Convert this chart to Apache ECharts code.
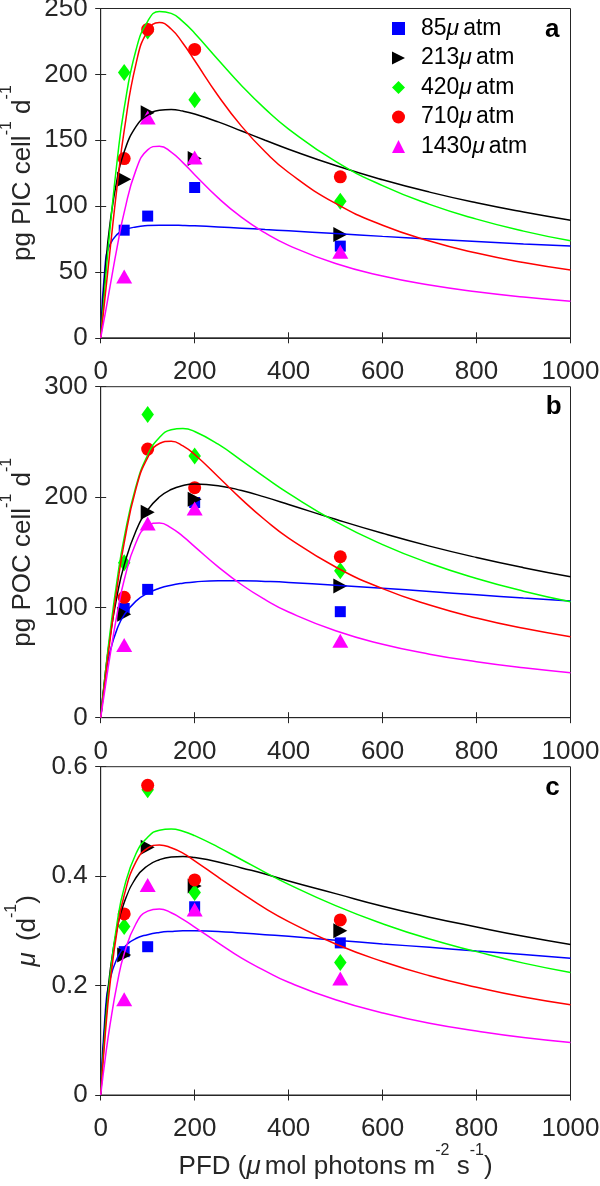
<!DOCTYPE html>
<html><head><meta charset="utf-8">
<script src="https://cdn.jsdelivr.net/npm/echarts@6/dist/echarts.min.js"></script>
<style>html,body{margin:0;padding:0;background:#fff}#c{width:600px;height:1186px}</style>
</head><body><div id="c"></div>
<script>
// ---------- data ----------
const pfd = [50, 100, 200, 510];
const fitPfd = [0, 10, 20, 35, 50, 75, 100, 125, 150, 175, 200, 250, 300, 350, 400, 500, 600, 700, 800, 900, 1000];
const co2Labels = ['85μatm', '213μatm', '420μatm', '710μatm', '1430μatm'];

// panel a: PIC production
const pic85 = [81.7, 92.4, 114.1, 69.6];
const pic213 = [120.4, 170.8, 136.1, 78.4];
const pic420 = [201.4, 233.0, 180.7, 103.7];
const pic710 = [136.1, 234.1, 218.9, 122.2];
const pic1430 = [46.5, 167.3, 136.9, 65.3];
const picFit85 = [0, 57.5, 70.9, 78.5, 81.8, 84.2, 85.2, 85.5, 85.5, 85.3, 85.0, 84.2, 83.2, 82.2, 81.2, 79.1, 77.0, 75.1, 73.2, 71.3, 69.6];
const picFit213 = [0, 52.4, 87.2, 120.7, 141.3, 160.3, 169.1, 172.7, 173.3, 172.1, 169.9, 163.9, 157.0, 150.0, 143.2, 130.8, 120.0, 110.6, 102.5, 95.5, 89.3];
const picFit420 = [0, 43.6, 83.4, 134.4, 174.3, 218.3, 240.3, 247.7, 246.3, 240.0, 231.2, 211.1, 191.4, 173.8, 158.5, 133.9, 115.5, 101.3, 90.1, 81.0, 73.6];
const picFit710 = [0, 33.3, 66.9, 115.2, 157.3, 207.8, 233.0, 239.4, 234.4, 223.6, 210.5, 183.8, 160.5, 141.2, 125.5, 102.0, 85.5, 73.5, 64.3, 57.1, 51.4];
const picFit1430 = [0, 19.2, 39.2, 68.8, 95.2, 127.3, 142.7, 145.5, 141.0, 133.0, 123.8, 106.2, 91.4, 79.6, 70.2, 56.4, 46.9, 40.1, 35.0, 31.0, 27.8];

// panel b: POC production
const poc85 = [99.0, 116.3, 195.0, 96.1];
const poc213 = [93.7, 186.1, 197.9, 119.3];
const poc420 = [140.5, 274.9, 237.2, 133.2];
const poc710 = [109.1, 243.5, 208.5, 145.9];
const poc1430 = [65.9, 176.1, 189.7, 69.8];
const pocFit85 = [0, 37.5, 60.0, 80.5, 93.2, 105.7, 112.9, 117.3, 120.1, 121.9, 123.1, 124.1, 124.1, 123.5, 122.6, 120.1, 117.3, 114.4, 111.4, 108.5, 105.7];
const pocFit213 = [0, 41.0, 73.6, 111.0, 138.3, 169.2, 188.3, 200.0, 206.8, 210.4, 211.7, 210.3, 205.9, 199.9, 193.3, 179.8, 167.1, 155.5, 145.2, 136.0, 127.8];
const pocFit420 = [0, 40.8, 77.6, 124.9, 163.3, 209.5, 238.1, 253.9, 260.9, 262.1, 259.4, 247.9, 233.1, 217.8, 203.3, 177.7, 156.9, 140.0, 126.2, 114.7, 105.1];
const pocFit710 = [0, 36.2, 70.9, 118.3, 158.5, 207.4, 235.8, 248.5, 250.6, 246.4, 238.5, 218.4, 197.9, 179.2, 162.8, 136.6, 117.0, 102.1, 90.4, 81.0, 73.4];
const pocFit1430 = [0, 28.7, 56.4, 94.0, 124.8, 158.6, 173.8, 176.5, 172.1, 164.3, 155.1, 136.7, 120.5, 107.0, 95.8, 78.8, 66.6, 57.6, 50.7, 45.2, 40.8];

// panel c: growth rate
const mu85 = [0.262, 0.271, 0.344, 0.278];
const mu213 = [0.256, 0.453, 0.382, 0.300];
const mu420 = [0.308, 0.558, 0.370, 0.242];
const mu710 = [0.331, 0.566, 0.393, 0.320];
const mu1430 = [0.175, 0.384, 0.339, 0.213];
const muFit85 = [0, 0.155, 0.212, 0.250, 0.270, 0.286, 0.293, 0.297, 0.299, 0.300, 0.300, 0.299, 0.296, 0.293, 0.290, 0.283, 0.276, 0.270, 0.263, 0.257, 0.250];
const muFit213 = [0, 0.140, 0.226, 0.305, 0.352, 0.397, 0.419, 0.430, 0.435, 0.436, 0.434, 0.426, 0.415, 0.404, 0.391, 0.368, 0.345, 0.325, 0.307, 0.290, 0.275];
const muFit420 = [0, 0.126, 0.218, 0.315, 0.379, 0.441, 0.471, 0.484, 0.486, 0.482, 0.474, 0.453, 0.430, 0.407, 0.385, 0.346, 0.313, 0.285, 0.262, 0.241, 0.224];
const muFit710 = [0, 0.114, 0.204, 0.301, 0.365, 0.426, 0.451, 0.457, 0.452, 0.442, 0.428, 0.398, 0.369, 0.341, 0.317, 0.276, 0.244, 0.218, 0.197, 0.179, 0.165];
const muFit1430 = [0, 0.069, 0.129, 0.203, 0.258, 0.313, 0.336, 0.340, 0.333, 0.321, 0.307, 0.278, 0.250, 0.227, 0.206, 0.174, 0.150, 0.131, 0.117, 0.105, 0.096];

// ---------- styling ----------
const FONT = '"Liberation Sans", Arial, Helvetica, sans-serif';
const AX = '#262626';
const colors = ['#0000ff', '#000000', '#00ff00', '#ff0000', '#ff00ff'];
const symbols = ['rect', 'path://M0,0L10,5L0,10Z', 'diamond', 'circle', 'triangle'];
const symSizes = [11, [14, 15], [12.5, 17], 13, [16, 14]];

const panels = [
  { pts: [pic85, pic213, pic420, pic710, pic1430], fits: [picFit85, picFit213, picFit420, picFit710, picFit1430],
    max: 250, interval: 50, name: '{n|pg PIC cell}{sup|-1}{n| d}{sup|-1}', nameGap: 65,
    grid: { top: 8.5, height: 329.3 } },
  { pts: [poc85, poc213, poc420, poc710, poc1430], fits: [pocFit85, pocFit213, pocFit420, pocFit710, pocFit1430],
    max: 300, interval: 100, name: '{n|pg POC cell}{sup|-1}{n| d}{sup|-1}', nameGap: 65,
    grid: { top: 386.7, height: 331 } },
  { pts: [mu85, mu213, mu420, mu710, mu1430], fits: [muFit85, muFit213, muFit420, muFit710, muFit1430],
    max: 0.6, interval: 0.2, name: '{mu|μ}{n| (d}{sup|-1}{n|)}', nameGap: 60,
    grid: { top: 766.7, height: 328.3 } }
];

const richName = {
  n: { fontFamily: FONT, fontSize: 26, color: AX, lineHeight: 37, verticalAlign: 'bottom' },
  mu: { fontFamily: FONT, fontSize: 26, fontStyle: 'italic', color: AX, lineHeight: 37, verticalAlign: 'bottom', padding: [0, 4, 0, 0] },
  sup: { fontFamily: FONT, fontSize: 16, color: AX, lineHeight: 16, verticalAlign: 'top' }
};

const grid = [], xAxis = [], yAxis = [], series = [];
panels.forEach((p, i) => {
  grid.push(Object.assign({ left: 100.7, right: 29.5, show: true, borderColor: AX, borderWidth: 1,
    backgroundColor: 'rgba(0,0,0,0)', containLabel: false, outerBoundsMode: 'none' }, p.grid));
  const tick = { show: true, inside: true, length: 5.5, lineStyle: { color: AX, width: 1 } };
  xAxis.push({
    type: 'value', gridIndex: i, min: 0, max: 1000, interval: 200, position: 'bottom',
    axisLine: { show: true, lineStyle: { color: AX, width: 1 } }, axisTick: tick,
    axisLabel: { show: true, margin: 21, fontFamily: FONT, fontSize: 26, color: AX, formatter: v => String(v) },
    splitLine: { show: false },
    name: i === 2 ? '{n|PFD (}{mu|μ}{n|mol photons m}{sup|-2}{n| s}{sup|-1}{n|)}' : '',
    nameLocation: 'middle', nameGap: 48, nameMoveOverlap: false,
    nameTextStyle: { fontFamily: FONT, fontSize: 26, color: AX, rich: richName }
  });
  xAxis.push({
    type: 'value', gridIndex: i, min: 0, max: 1000, interval: 200, position: 'top',
    axisLine: { show: false }, axisTick: tick, axisLabel: { show: false }, splitLine: { show: false }
  });
  yAxis.push({
    type: 'value', gridIndex: i, min: 0, max: p.max, interval: p.interval, position: 'left',
    axisLine: { show: true, lineStyle: { color: AX, width: 1 } }, axisTick: tick,
    axisLabel: { show: true, margin: 13, fontFamily: FONT, fontSize: 26, color: AX },
    splitLine: { show: false },
    name: p.name, nameLocation: 'middle', nameGap: p.nameGap, nameMoveOverlap: false,
    nameTextStyle: { fontFamily: FONT, fontSize: 26, color: AX, rich: richName }
  });
  yAxis.push({
    type: 'value', gridIndex: i, min: 0, max: p.max, interval: p.interval, position: 'right',
    axisLine: { show: false }, axisTick: tick, axisLabel: { show: false }, splitLine: { show: false }
  });
  for (let s = 0; s < 5; s++) {
    series.push({
      type: 'scatter', name: co2Labels[s], xAxisIndex: 2 * i, yAxisIndex: 2 * i,
      data: pfd.map((x, k) => [x, p.pts[s][k]]),
      symbol: symbols[s], symbolSize: symSizes[s],
      itemStyle: { color: colors[s], opacity: 1 }, z: 2, silent: true
    });
  }
  for (let s = 0; s < 5; s++) {
    series.push({
      type: 'line', name: 'fit ' + co2Labels[s], xAxisIndex: 2 * i, yAxisIndex: 2 * i,
      data: fitPfd.map((x, k) => [x, p.fits[s][k]]),
      showSymbol: false, symbol: 'none', smooth: 0.5,
      lineStyle: { color: colors[s], width: 1.5 }, itemStyle: { color: colors[s] }, z: 3, silent: true
    });
  }
});

const option = {
  animation: false,
  backgroundColor: '#ffffff',
  grid, xAxis, yAxis, series,
  legend: {
    data: co2Labels.map((n, i) => ({ name: n, icon: symbols[i] })),
    orient: 'vertical', left: 392, top: 16.5, padding: 0,
    itemWidth: 13, itemHeight: 13, itemGap: 5.5, selectedMode: false,
    formatter: n => n.replace('μ', '{mu|μ}'),
    textStyle: {
      fontFamily: FONT, fontSize: 23, color: '#000', lineHeight: 24, padding: [0, 0, 0, 11],
      rich: { mu: { fontFamily: FONT, fontSize: 23, fontStyle: 'italic', color: '#000', lineHeight: 24, padding: [0, 4, 0, 0] } }
    }
  },
  graphic: [
    { type: 'text', x: 552.3, y: 29.5, silent: true, style: { text: 'a', font: 'bold 26px ' + FONT, fill: '#000', align: 'center', verticalAlign: 'middle' } },
    { type: 'text', x: 553.6, y: 406.5, silent: true, style: { text: 'b', font: 'bold 26px ' + FONT, fill: '#000', align: 'center', verticalAlign: 'middle' } },
    { type: 'text', x: 552.4, y: 787.5, silent: true, style: { text: 'c', font: 'bold 26px ' + FONT, fill: '#000', align: 'center', verticalAlign: 'middle' } }
  ]
};

const chart = echarts.init(document.getElementById('c'), null, { renderer: 'canvas' });
chart.setOption(option);
</script>
</body></html>
